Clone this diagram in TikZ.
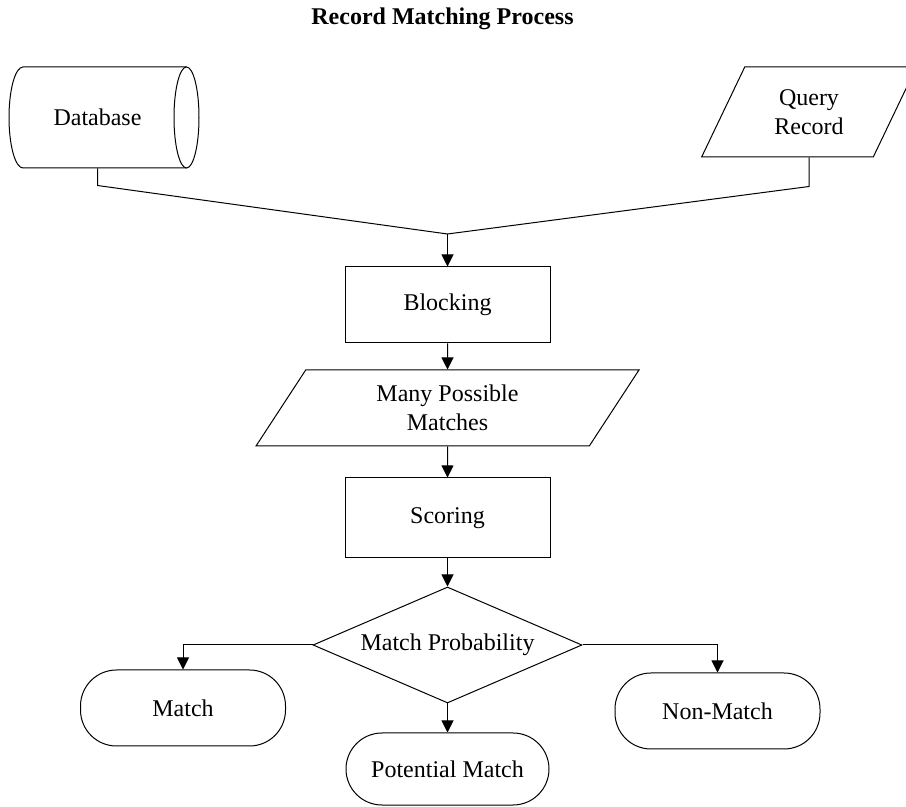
\documentclass[tikz,border=0pt,12pt]{standalone}
\usepackage{fontspec}
\setmainfont{Liberation Serif}
\usetikzlibrary{arrows.meta,shapes.geometric}
\tikzset{
procbox/.style={draw, minimum width=102.5pt, minimum height=38pt, inner sep=2pt},
iobox/.style={draw, trapezium, trapezium left angle=64, trapezium right angle=116,
  trapezium stretches, align=center, inner sep=2pt},
decision/.style={draw, diamond, aspect=2.3, inner sep=0pt, minimum width=134.5pt, minimum height=58pt},
terminal/.style={draw, rounded corners=18pt, minimum width=102.5pt, minimum height=38pt},
arr/.style={-{Triangle[length=6pt,width=6pt]}},
}
\tikzstyle{every node}=[font=\normalsize]

\begin{document}
\begin{tikzpicture}[x=0.5pt, y=-0.5pt, line width=0.5pt]
        \useasboundingbox (0,0) rectangle (906,807);

        \node[font=\bfseries, anchor=base] (title) at (442.5,25) {Record Matching Process};

        % database drum
        \draw (186.5,67) -- (23,67)
        arc[start angle=270, end angle=90, x radius=14, y radius=50.5]
        -- (186.5,168);
        \draw (186.5,117.5) ellipse [x radius=12.5, y radius=50.5];
        \node[minimum height=50.5pt] (db) at (97.5,117.5) {Database};

        \node[iobox, minimum width=108pt, minimum height=45pt] (query) at (809,112) {Query\\Record};

        \node[procbox] (block) at (447.5,305) {Blocking};
        \node[iobox, minimum width=191.5pt, minimum height=38pt] (many) at (447.5,408) {Many Possible\\Matches};
        \node[procbox, minimum height=40pt] (score) at (447.5,518) {Scoring};
        \node[decision] (prob) at (447.5,645) {Match Probability};

        \node[terminal] (match) at (183,708) {Match};
        \node[terminal] (nonmatch) at (717.5,711) {Non-Match};
        \node[terminal, minimum width=101.5pt, minimum height=36pt] (potential) at (447.5,769) {Potential Match};

        \coordinate (merge) at (447.5,234);
        \draw (db.south) -- ++(0,17) -- (merge);
        \draw (query.south) -- ++(0,29) -- (merge);
        \draw[arr] (merge) -- (block.north);
        \draw[arr] (block) -- (many);
        \draw[arr] (many) -- (score);
        \draw[arr] (score) -- (prob);
        \draw[arr] (prob.west) -| (match.north);
        \draw[arr] (prob.east) -| (nonmatch.north);
        \draw[arr] (prob.south) -- (potential.north);
\end{tikzpicture}
\end{document}
